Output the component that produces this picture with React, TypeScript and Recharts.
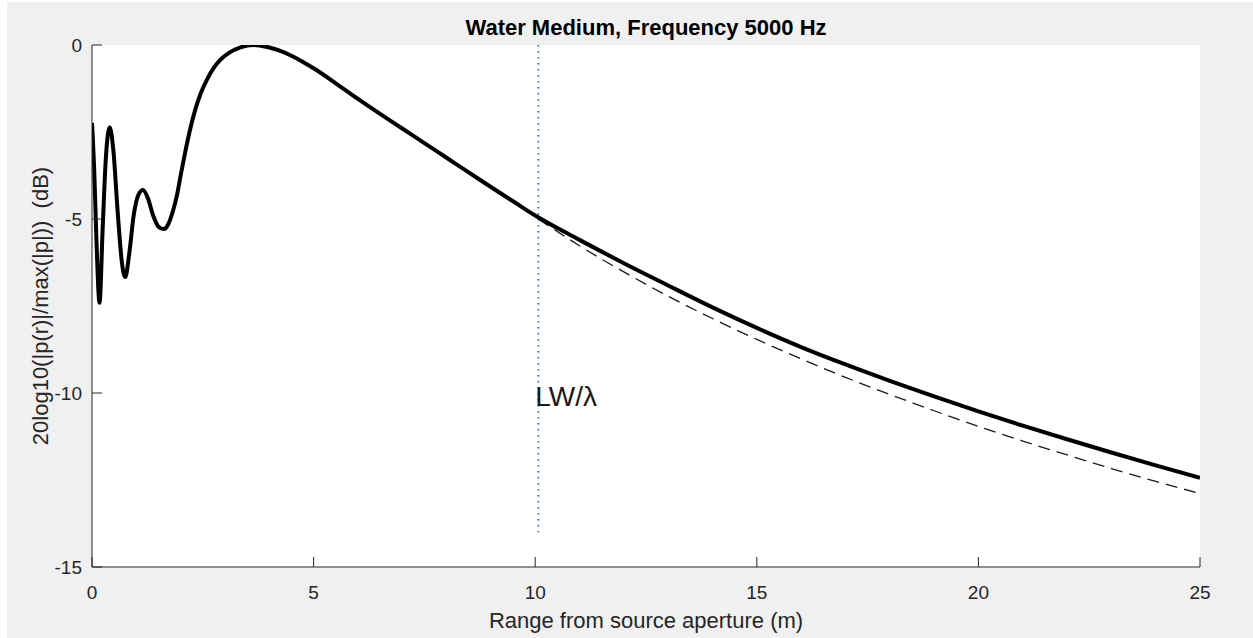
import React from 'react'
import { LineChart, Line, XAxis, YAxis, CartesianGrid, ReferenceDot } from 'recharts'

// full solution: range (m) vs normalised level (dB)
const rangeFull = [
  0, 0.05, 0.1, 0.17, 0.24, 0.31, 0.4, 0.48, 0.58, 0.67, 0.75, 0.84, 0.94, 1.05, 1.15, 1.26,
  1.38, 1.5, 1.62, 1.72, 1.82, 1.92, 2.0, 2.1, 2.2, 2.32, 2.45, 2.6, 2.75, 2.9, 3.1, 3.35,
  3.64, 3.8, 4.0, 4.25, 4.5, 4.75, 5.0, 5.5, 6.0, 6.5, 7.0, 7.5, 8.0, 8.5, 9.0, 9.5,
  10, 11, 12, 13, 14, 15, 16, 17, 18, 19, 20, 21, 22, 23, 24, 25,
]
const levelFull = [
  -2.24, -3.6, -5.6, -7.41, -5.3, -3.3, -2.36, -3.0, -4.8, -6.2, -6.67, -6.0, -4.9, -4.3, -4.17, -4.4,
  -4.9, -5.22, -5.29, -5.15, -4.8, -4.3, -3.75, -3.1, -2.5, -1.9, -1.4, -0.98, -0.65, -0.42, -0.22, -0.07,
  0, -0.02, -0.07, -0.17, -0.31, -0.48, -0.67, -1.1, -1.55, -1.98, -2.4, -2.82, -3.24, -3.66, -4.08, -4.49,
  -4.9, -5.6, -6.27, -6.91, -7.54, -8.13, -8.68, -9.18, -9.65, -10.1, -10.53, -10.94, -11.33, -11.71, -12.08, -12.44,
]

// far-field spherical spreading curve
const rangeFar = [10.07, 11, 12, 13, 14, 15, 16, 17, 18, 19, 20, 21, 22, 23, 24, 25]
const levelFar = [-5.0, -5.77, -6.52, -7.22, -7.86, -8.46, -9.02, -9.55, -10.04, -10.51, -10.96, -11.38, -11.78, -12.17, -12.54, -12.89]

// LW/lambda marker
const markRange = [10.07, 10.07]
const markLevel = [0, -14]

const xTicks = [0, 5, 10, 15, 20, 25]
const yTicks = [0, -5, -10, -15]

const fullData = rangeFull.map((x, i) => ({ x, y: levelFull[i] }))
const farData = rangeFar.map((x, i) => ({ x, y: levelFar[i] }))
const markData = markRange.map((x, i) => ({ x, y: markLevel[i] }))

const FONT = '"Liberation Sans", Arial, Helvetica, sans-serif'
const AXIS = '#262626'

function XTick({ x, y, payload }: any) {
  return (
    <g>
      <line x1={x} x2={x} y1={y} y2={y - 10} stroke={AXIS} />
      <text x={x} y={y + 25} textAnchor="middle" dominantBaseline="central" fontSize={19} fill={AXIS} fontFamily={FONT}>
        {payload.value}
      </text>
    </g>
  )
}

function YTick({ x, y, payload }: any) {
  return (
    <g>
      <line x1={x} x2={x + 10} y1={y} y2={y} stroke={AXIS} />
      <text x={x - 10} y={y} textAnchor="end" dominantBaseline="central" fontSize={19} fill={AXIS} fontFamily={FONT}>
        {payload.value}
      </text>
    </g>
  )
}

export default function App() {
  return (
    <div style={{ position: 'absolute', left: 0, top: 0, width: 1253, height: 638, background: '#fff', fontFamily: FONT }}>
      <div style={{ position: 'absolute', left: 7, top: 2, right: 0, bottom: 0, background: '#f0f0f0' }} />
      <div
        style={{
          position: 'absolute', left: 92, width: 1108, top: 16, textAlign: 'center',
          fontSize: 22, fontWeight: 'bold', lineHeight: '24px', color: '#000',
        }}
      >
        Water Medium, Frequency 5000 Hz
      </div>
      <div style={{ position: 'absolute', left: 0, top: 0 }}>
        <LineChart width={1253} height={638} data={fullData} margin={{ top: 45, right: 53, bottom: 0, left: 0 }}>
          <CartesianGrid fill="#ffffff" fillOpacity={1} horizontal={false} vertical={false} />
          <XAxis
            type="number"
            dataKey="x"
            domain={[0, 25]}
            ticks={xTicks}
            height={71}
            tickSize={0}
            tickMargin={0}
            tickLine={false}
            tick={<XTick />}
            stroke={AXIS}
            allowDataOverflow
            label={{
              content: ({ viewBox }: any) => (
                <text x={viewBox.x + viewBox.width / 2} y={620} textAnchor="middle" dominantBaseline="central" fontSize={22} fill={AXIS} fontFamily={FONT}>
                  Range from source aperture (m)
                </text>
              ),
            }}
          />
          <YAxis
            type="number"
            domain={[-15, 0]}
            ticks={yTicks}
            width={92}
            tickSize={0}
            tickMargin={0}
            tickLine={false}
            tick={<YTick />}
            stroke={AXIS}
            allowDataOverflow
            label={{
              content: ({ viewBox }: any) => (
                <text
                  transform={`translate(40, ${viewBox.y + viewBox.height / 2}) rotate(-90)`}
                  textAnchor="middle"
                  dominantBaseline="central"
                  fontSize={22}
                  fill={AXIS}
                  fontFamily={FONT}
                  style={{ whiteSpace: 'pre' }}
                >
                  {'20log10(|p(r)|/max(|p|))  (dB)'}
                </text>
              ),
            }}
          />
          <Line data={markData} dataKey="y" type="linear" stroke="#0072BD" strokeWidth={1.6} strokeDasharray="1.5 4.5" dot={false} isAnimationActive={false} />
          <Line data={farData} dataKey="y" type="monotone" stroke="#1a1a1a" strokeWidth={1.3} strokeDasharray="12 7" dot={false} isAnimationActive={false} />
          <Line data={fullData} dataKey="y" type="monotone" stroke="#000" strokeWidth={4} dot={false} isAnimationActive={false} />
          <ReferenceDot
            x={10.07}
            y={-10.1}
            r={0}
            fill="none"
            stroke="none"
            label={{ value: 'LW/λ', position: 'right', offset: -3, fontSize: 28, fill: '#1a1a1a', fontFamily: FONT }}
          />
        </LineChart>
      </div>
    </div>
  )
}
